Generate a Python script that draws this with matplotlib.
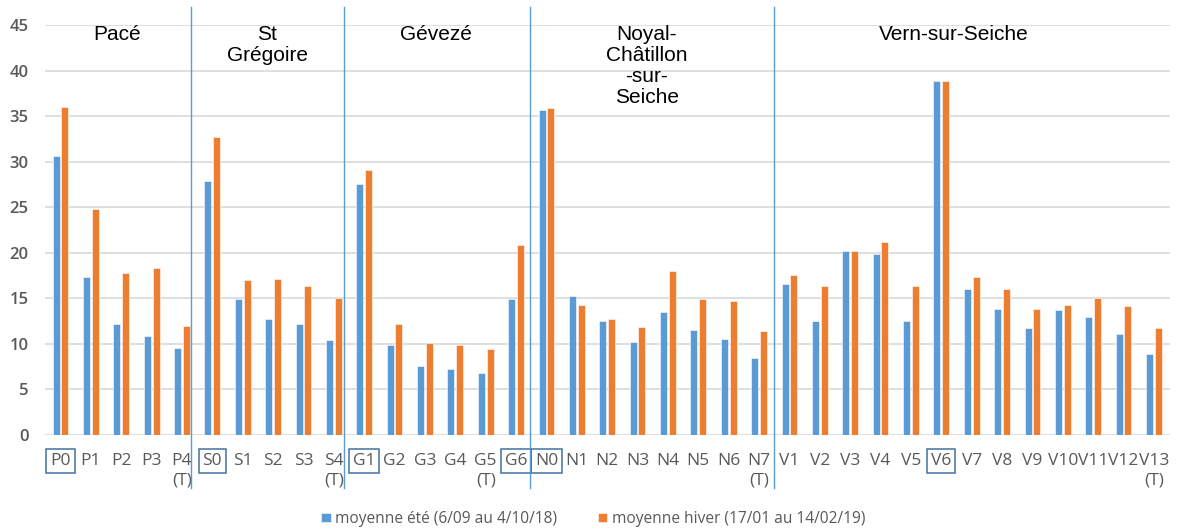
import matplotlib
matplotlib.use("Agg")
import matplotlib.pyplot as plt
import numpy as np

# Sampling points
sites = ["P0", "P1", "P2", "P3", "P4\n(T)",
         "S0", "S1", "S2", "S3", "S4\n(T)",
         "G1", "G2", "G3", "G4", "G5\n(T)", "G6",
         "N0", "N1", "N2", "N3", "N4", "N5", "N6", "N7\n(T)",
         "V1", "V2", "V3", "V4", "V5", "V6", "V7", "V8", "V9", "V10", "V11", "V12", "V13\n(T)"]

# Summer averages (6/09 to 4/10/18)
ete = [30.6, 17.3, 12.2, 10.9, 9.6,
       27.9, 14.9, 12.7, 12.2, 10.4,
       27.6, 9.9, 7.6, 7.2, 6.8, 14.9,
       35.7, 15.3, 12.5, 10.2, 13.5, 11.5, 10.5, 8.4,
       16.6, 12.5, 20.2, 19.9, 12.5, 38.8, 16.0, 13.8, 11.7, 13.7, 13.0, 11.1, 8.9]

# Winter averages (17/01 to 14/02/19)
hiver = [36.0, 24.8, 17.8, 18.3, 12.0,
         32.7, 17.0, 17.1, 16.3, 15.0,
         29.1, 12.2, 10.1, 9.9, 9.4, 20.9,
         35.9, 14.3, 12.7, 11.9, 18.0, 14.9, 14.7, 11.4,
         17.6, 16.3, 20.2, 21.2, 16.3, 38.8, 17.3, 16.0, 13.8, 14.3, 15.0, 14.2, 11.7]

# Reference points (framed labels)
references = ["P0", "S0", "G1", "G6", "N0", "V6"]

communes = ["Pacé", "St\nGrégoire", "Gévezé", "Noyal-\nChâtillon\n-sur-\nSeiche", "Vern-sur-Seiche"]

BLUE = "#5B9BD5"
ORANGE = "#ED7D31"
GRID = "#D9D9D9"
TXT = "#595959"

fig = plt.figure(figsize=(11.77, 5.31), dpi=100)
ax = fig.add_axes([45 / 1177, 1 - 435 / 531, 1125 / 1177, 410 / 531])

x = np.arange(len(sites))
w = 0.23
off = 0.145
ax.bar(x - off, ete, width=w, color=BLUE, edgecolor="white", linewidth=0.4,
       label="moyenne été (6/09 au 4/10/18)", zorder=3)
ax.bar(x + off, hiver, width=w, color=ORANGE, edgecolor="white", linewidth=0.4,
       label="moyenne hiver (17/01 au 14/02/19)", zorder=3)

ax.set_xlim(-0.51, 36.53)
ax.set_ylim(0, 45)
ax.set_yticks(np.arange(0, 46, 5))
ax.yaxis.grid(True, color=GRID, linewidth=1.2, zorder=0)
ax.set_axisbelow(True)
for s in ax.spines.values():
    s.set_visible(False)
ax.tick_params(length=0)
ax.tick_params(axis="y", pad=12, labelsize=12, labelcolor=TXT)
ax.tick_params(axis="x", pad=13, labelsize=12.5, labelcolor=TXT)
ax.set_xticks(x)
ax.set_xticklabels(sites, fontfamily="Open Sans", linespacing=1.3, va="top")
for lab in ax.get_yticklabels():
    lab.set_fontfamily("Open Sans")
    lab.set_fontweight("semibold")
for lab in ax.get_xticklabels():
    if lab.get_text() in references:
        lab.set_bbox(dict(boxstyle="square,pad=0.22", fc="none", ec="#41719C", lw=1.1))

# Commune separators
trans = ax.get_xaxis_transform()
for sep in [4.3, 9.33, 15.45, 23.48]:
    ax.plot([sep, sep], [-0.13, 1.044], transform=trans, color=BLUE,
            linewidth=1.0, clip_on=False, zorder=4)

# Commune names
for name, cx in zip(communes, [1.86, 6.8, 12.35, 19.3, 29.4]):
    ax.text(cx, 45.0, name, ha="center", va="top", fontsize=15,
            fontfamily="Liberation Sans", color="black", linespacing=1.14, zorder=5)

fig.legend(loc="center", bbox_to_anchor=(0.504, 1 - 519 / 531), ncol=2, frameon=False,
           prop={"family": "Open Sans", "size": 11.2}, handlelength=0.6, handleheight=0.6,
           handletextpad=0.3, columnspacing=2.6, labelcolor=TXT)

fig.savefig("out.png", dpi=100)
